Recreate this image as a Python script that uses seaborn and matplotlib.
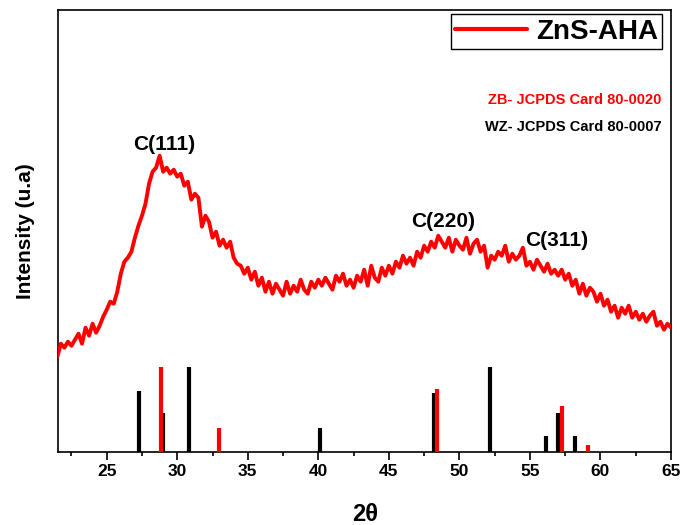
import numpy as np
import pandas as pd
import seaborn as sns
import matplotlib.pyplot as plt
from matplotlib.ticker import MultipleLocator

# XRD scan of ZnS-AHA, 0.25 deg steps from 21.5 to 65 deg (intensity in a.u.)
scan_start = 21.5
scan_step = 0.25
intensity = [
    95, 108, 104, 110, 106, 112, 118, 108, 124, 116, 128, 119, 126, 135, 142, 150,
    148, 160, 178, 190, 194, 200, 214, 226, 236, 248, 268, 280, 284, 296, 280, 284,
    278, 282, 275, 278, 266, 270, 252, 258, 254, 225, 236, 230, 214, 220, 206, 212,
    204, 210, 194, 188, 186, 178, 184, 172, 180, 166, 174, 160, 170, 158, 168, 162,
    156, 170, 158, 166, 160, 172, 162, 158, 170, 164, 172, 166, 174, 168, 162, 176,
    170, 178, 166, 172, 164, 176, 170, 182, 166, 186, 174, 170, 184, 176, 186, 178,
    190, 184, 196, 188, 194, 186, 200, 194, 206, 200, 210, 204, 216, 210, 204, 214,
    200, 212, 206, 202, 214, 198, 208, 212, 200, 206, 184, 196, 192, 200, 196, 206,
    190, 198, 192, 196, 204, 186, 190, 182, 192, 186, 180, 188, 178, 182, 176, 182,
    172, 178, 166, 172, 158, 168, 156, 164, 160, 150, 158, 146, 152, 140, 146, 134,
    144, 138, 146, 134, 140, 132, 138, 130, 136, 140, 126, 130, 122, 128, 124,
]
two_theta = scan_start + scan_step * np.arange(len(intensity))

# reference cards (relative intensity, strongest = 100)
zb_pos = [28.85, 32.98, 48.41, 57.25, 59.12]
zb_int = [100, 28, 74, 54, 8]
wz_pos = [27.29, 28.97, 30.81, 40.12, 48.22, 52.15, 56.14, 57.01, 58.20]
wz_int = [71, 45, 100, 28, 69, 100, 18, 46, 18]

peak_labels = ["C(111)", "C(220)", "C(311)"]
peak_x = [29.1, 48.85, 56.9]
peak_y = [307, 230, 211]

xticks = [25, 30, 35, 40, 45, 50, 55, 60, 65]

df = pd.DataFrame({"2theta": two_theta, "intensity": intensity})

sns.set_style("white")
plt.rcParams["font.family"] = ["Liberation Sans", "DejaVu Sans"]
plt.rcParams["font.weight"] = "bold"
plt.rcParams["text.color"] = "black"
plt.rcParams["axes.labelcolor"] = "black"
plt.rcParams["xtick.color"] = "black"

fig = plt.figure(figsize=(6.82, 5.25), dpi=100)
ax = fig.add_axes([0.0855, 0.1396, 0.8984, 0.8414])

stick_scale = 0.85
ax.vlines(wz_pos, 0, np.array(wz_int) * stick_scale, color="black", lw=3.0, zorder=2)
ax.vlines(zb_pos, 0, np.array(zb_int) * stick_scale, color="#ff0000", lw=3.0, zorder=3)

sns.lineplot(data=df, x="2theta", y="intensity", color="#ff0000", lw=2.8,
             estimator=None, label="ZnS-AHA", ax=ax, zorder=4)

for lab, px, py in zip(peak_labels, peak_x, peak_y):
    ax.text(px, py, lab, ha="center", va="center", fontsize=15,
            fontweight="bold", color="black")

ax.text(0.984, 0.796, "ZB- JCPDS Card 80-0020", transform=ax.transAxes,
        ha="right", va="center", fontsize=10.5, fontweight="bold", color="#ff0000")
ax.text(0.984, 0.735, "WZ- JCPDS Card 80-0007", transform=ax.transAxes,
        ha="right", va="center", fontsize=10.5, fontweight="bold", color="black")

leg = ax.legend(loc="upper right", bbox_to_anchor=(0.985, 0.99), borderaxespad=0,
                fancybox=False, edgecolor="black", framealpha=1,
                prop={"size": 20, "weight": "bold"}, handlelength=2.6,
                handletextpad=0.3, borderpad=0.15)
leg.get_frame().set_linewidth(1.0)
for line in leg.get_lines():
    line.set_linewidth(3)
for t in leg.get_texts():
    t.set_color("black")

ax.set_xlim(21.57, 65)
ax.set_ylim(0, 441.7)
ax.set_xticks(xticks)
ax.xaxis.set_minor_locator(MultipleLocator(2.5))
ax.set_yticks([])
ax.tick_params(axis="x", which="major", direction="out", length=6, width=1.2,
               labelsize=12.5, bottom=True, pad=3, colors="black")
ax.tick_params(axis="x", which="minor", direction="out", length=3, width=1.2,
               bottom=True, colors="black")
for lab in ax.get_xticklabels():
    lab.set_fontweight("bold")

for sp in ax.spines.values():
    sp.set_color("black")
    sp.set_linewidth(1.2)

ax.set_xlabel("2θ", fontsize=17, fontweight="bold", labelpad=17)
ax.set_ylabel("Intensity (u.a)", fontsize=15, fontweight="bold", labelpad=17)

fig.savefig("out.png", dpi=100)
